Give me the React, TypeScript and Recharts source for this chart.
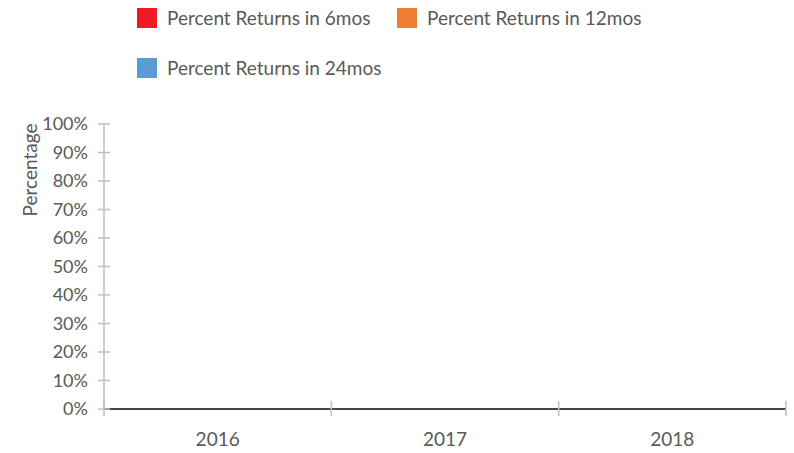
import { BarChart, Bar, XAxis, YAxis, Legend, Label } from 'recharts';

const years = ['2016', '2017', '2018'];
const returns6 = [0, 0, 0];
const returns12 = [0, 0, 0];
const returns24 = [0, 0, 0];
const yTicks = [0, 10, 20, 30, 40, 50, 60, 70, 80, 90, 100];

const series = [
  { key: 'r6', name: 'Percent Returns in 6mos', color: '#ed1c24' },
  { key: 'r12', name: 'Percent Returns in 12mos', color: '#ed7d31' },
  { key: 'r24', name: 'Percent Returns in 24mos', color: '#5b9bd5' },
];

const data = years.map((year, i) => ({
  year,
  r6: returns6[i],
  r12: returns12[i],
  r24: returns24[i],
}));

const FONT = 'Lato, sans-serif';
const TEXT = '#595959';
const GRID = '#bfbfbf';
const X_MARGIN = 24;

function LegendBox() {
  return (
    <div style={{ display: 'flex', flexWrap: 'wrap', width: 540, fontFamily: FONT, fontSize: 19, color: TEXT }}>
      {series.map(s => (
        <div key={s.key} style={{ width: 260, height: 50, display: 'flex', alignItems: 'flex-start' }}>
          <span style={{ width: 20, height: 20, background: s.color, marginTop: 8, marginRight: 10, flex: 'none' }} />
          <span style={{ lineHeight: '36px', whiteSpace: 'nowrap' }}>{s.name}</span>
        </div>
      ))}
    </div>
  );
}

function YTick(props: any) {
  const { x, y, payload } = props;
  return (
    <g>
      <line x1={x - 6} x2={x + 6} y1={y} y2={y} stroke={GRID} strokeWidth={1.5} />
      <text x={x - 16} y={y} dy="0.35em" textAnchor="end" fill={TEXT} fontSize={18} fontFamily={FONT}>
        {payload.value}%
      </text>
    </g>
  );
}

// category label plus Excel-style tick marks on the category boundaries
function XTick(props: any) {
  const { x, y, payload, index, visibleTicksCount, width } = props;
  const band = width / visibleTicksCount;
  const axisY = y - X_MARGIN;
  const left = x - band / 2;
  const right = x + band / 2;
  return (
    <g>
      <line x1={left} x2={left} y1={axisY - 8} y2={axisY + 7} stroke={GRID} strokeWidth={1.5} />
      {index === visibleTicksCount - 1 && (
        <line x1={right} x2={right} y1={axisY - 8} y2={axisY + 7} stroke={GRID} strokeWidth={1.5} />
      )}
      <text x={x} y={y} dy="0.71em" textAnchor="middle" fill={TEXT} fontSize={19} fontFamily={FONT}>
        {payload.value}
      </text>
    </g>
  );
}

function YTitle(props: any) {
  const { viewBox } = props;
  const cx = viewBox.x + 30;
  const cy = viewBox.y + 46;
  return (
    <text x={cx} y={cy} transform={`rotate(-90 ${cx} ${cy})`} textAnchor="middle" dy="0.35em"
      fill={TEXT} fontSize={19} fontFamily={FONT}>
      Percentage
    </text>
  );
}

export default function App() {
  return (
    <div style={{ position: 'absolute', left: 0, top: 0 }}>
      <BarChart width={794} height={453} data={data} margin={{ top: 124, right: 8, bottom: 0, left: 0 }}>
        <XAxis
          dataKey="year"
          height={44}
          tickSize={0}
          tickMargin={X_MARGIN}
          axisLine={{ stroke: '#474747', strokeWidth: 2 }}
          tickLine={false}
          tick={<XTick />}
        />
        <YAxis
          width={104}
          domain={[0, 100]}
          ticks={yTicks}
          interval={0}
          tickSize={0}
          tickMargin={0}
          tickLine={false}
          axisLine={{ stroke: GRID, strokeWidth: 1.5 }}
          tick={<YTick />}
        >
          <Label content={<YTitle />} />
        </YAxis>
        <Legend
          layout="horizontal"
          verticalAlign="middle"
          align="center"
          content={<LegendBox />}
          wrapperStyle={{ top: 0, left: 137, width: 540 }}
        />
        {series.map(s => (
          <Bar key={s.key} dataKey={s.key} name={s.name} fill={s.color} isAnimationActive={false} />
        ))}
      </BarChart>
    </div>
  );
}
